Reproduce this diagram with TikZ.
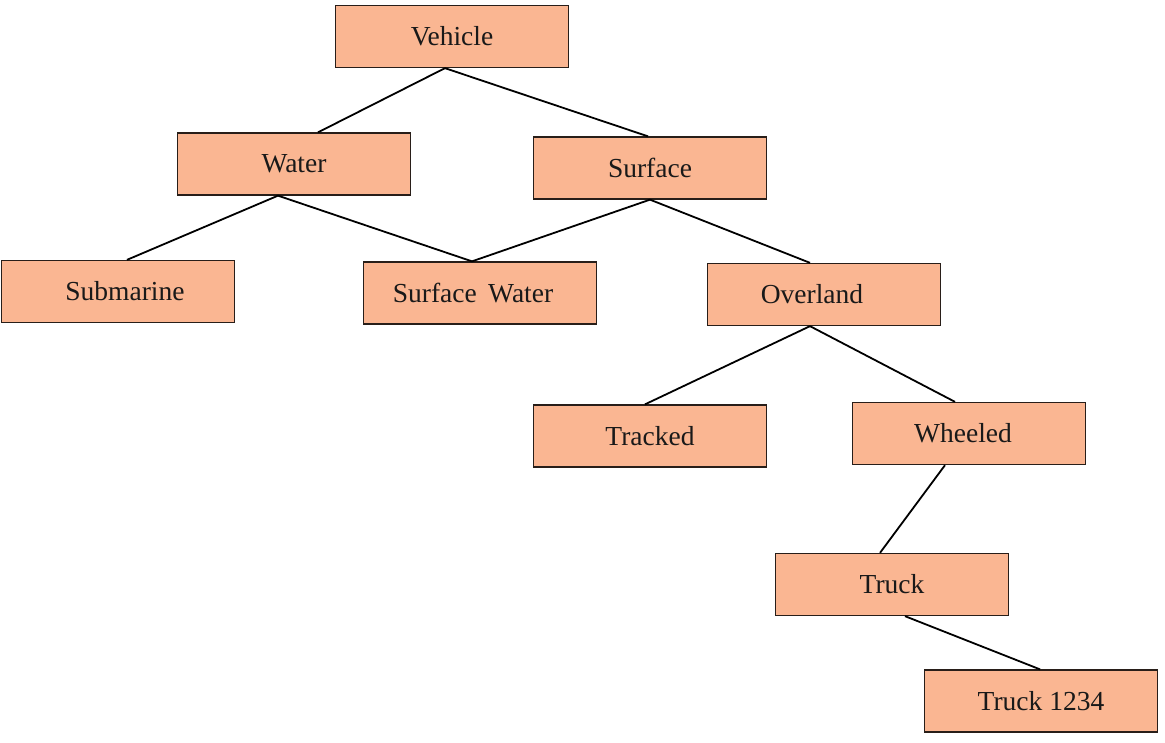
\documentclass[tikz,border=0pt]{standalone}
\usepackage{fontspec}
\setmainfont{Liberation Serif}
\definecolor{boxfill}{RGB}{250,182,146}
\definecolor{boxline}{RGB}{40,30,25}
\begin{document}
\begin{tikzpicture}[x=1pt,y=-1pt,
  box/.style={draw=boxline,line width=1.3pt,fill=boxfill,rectangle,inner sep=0pt,
    minimum width=233pt,minimum height=62pt,font=\fontsize{27.5}{31}\selectfont,text=black!90},
  link/.style={draw=black,line width=1.8pt}]
\useasboundingbox (0,0) rectangle (1165,742);
\node[box] (veh) at (452,36.5) {Vehicle};
\node[box] (wat) at (294,164) {Water};
\node[box] (sur) at (650,168) {Surface};
\node[box] (sub) at (118,291.5) {\hspace*{14pt}Submarine};
\node[box] (sw) at (480,293) {Surface\, Water\hspace*{14pt}};
\node[box] (ovl) at (824,294.5) {Overland\hspace*{24pt}};
\node[box] (trk) at (650,436) {Tracked};
\node[box] (whl) at (969,433.5) {Wheeled\hspace*{12pt}};
\node[box] (tru) at (892,584.5) {Truck};
\node[box] (t1234) at (1041,701) {Truck 1234};
\draw[link] ([xshift=-7pt]veh.south) -- ([xshift=24pt]wat.north);
\draw[link] ([xshift=-7pt]veh.south) -- ([xshift=-2pt]sur.north);
\draw[link] ([xshift=-16pt]wat.south) -- ([xshift=9pt]sub.north);
\draw[link] ([xshift=-16pt]wat.south) -- ([xshift=-8pt]sw.north);
\draw[link] (sur.south) -- ([xshift=-8pt]sw.north);
\draw[link] (sur.south) -- ([xshift=-14pt]ovl.north);
\draw[link] ([xshift=-14pt]ovl.south) -- ([xshift=-5pt]trk.north);
\draw[link] ([xshift=-14pt]ovl.south) -- ([xshift=-14pt]whl.north);
\draw[link] ([xshift=-24pt]whl.south) -- ([xshift=-12pt]tru.north);
\draw[link] ([xshift=13pt]tru.south) -- ([xshift=-1pt]t1234.north);
\end{tikzpicture}
\end{document}
